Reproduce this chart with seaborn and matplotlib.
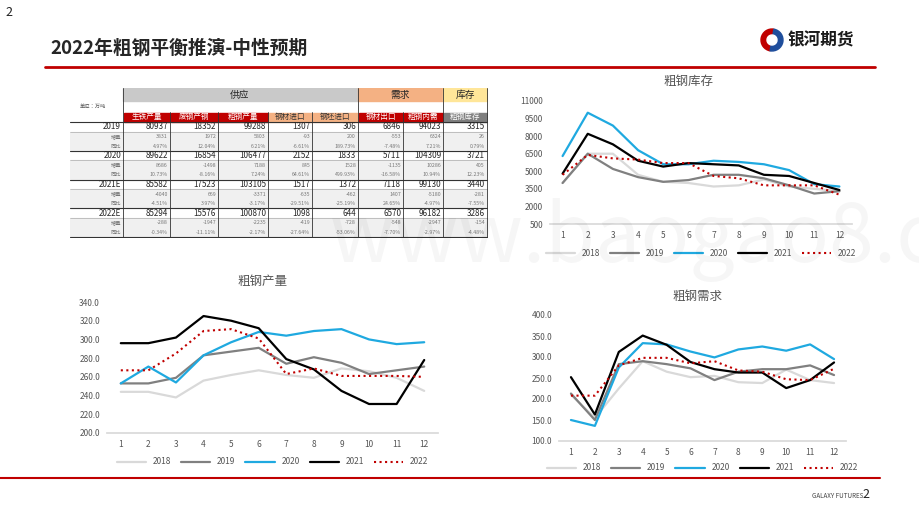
import matplotlib
matplotlib.use('Agg')
import matplotlib.pyplot as plt
from matplotlib.patches import Rectangle, Wedge
import seaborn as sns
import pandas as pd

sns.set_theme(style='white')
plt.rcParams['font.family'] = 'sans-serif'
plt.rcParams['font.sans-serif'] = ['Noto Sans CJK SC', 'Noto Sans CJK JP', 'DejaVu Sans']
plt.rcParams['axes.unicode_minus'] = False

# ---- 数据 ----
months = list(range(1, 13))
series_years = ['2018', '2019', '2020', '2021', '2022']
colors = ['#d9d9d9', '#808080', '#1fa9e0', '#000000', '#c00000']

stock = {
    '2018': [4000, 6500, 6500, 4700, 4100, 4000, 3700, 3800, 4300, 3700, 3500, 3300],
    '2019': [4000, 6500, 5200, 4500, 4100, 4250, 4700, 4700, 4400, 3800, 3100, 3300],
    '2020': [6300, 10000, 8900, 6800, 5600, 5600, 5900, 5800, 5600, 5100, 3900, 3700],
    '2021': [4800, 8200, 7300, 5900, 5400, 5700, 5600, 5500, 4700, 4600, 4000, 3400],
    '2022': [4700, 6400, 6100, 6000, 5700, 5700, 4600, 4400, 3800, 3800, 3800, 3000],
}
output = {
    '2018': [244, 244, 238, 256, 262, 267, 262, 259, 269, 266, 259, 245],
    '2019': [253, 253, 259, 283, 287, 291, 274, 281, 275, 263, 267, 271],
    '2020': [253, 271, 254, 283, 297, 308, 304, 309, 311, 300, 295, 297],
    '2021': [296, 296, 302, 325, 320, 312, 279, 268, 245, 231, 231, 278],
    '2022': [267, 267, 285, 309, 311, 301, 263, 269, 261, 261, 261, 260],
}
demand = {
    '2018': [210, 155, 225, 290, 265, 252, 255, 240, 238, 270, 245, 238],
    '2019': [213, 150, 283, 290, 283, 273, 245, 265, 271, 271, 280, 257],
    '2020': [150, 136, 275, 333, 330, 313, 299, 318, 325, 315, 330, 295],
    '2021': [252, 163, 312, 351, 329, 288, 271, 263, 263, 226, 245, 287],
    '2022': [208, 208, 280, 298, 298, 285, 290, 268, 265, 247, 245, 272],
}

tbl_cols = ['生铁产量', '废钢产钢', '粗钢产量', '钢材进口', '钢坯进口', '钢材出口', '粗钢内需', '粗钢库存']
tbl_years = ['2019', '2020', '2021E', '2022E']
tbl_vals = [
    [80937, 18352, 99288, 1307, 306, 6846, 94023, 3315],
    [89622, 16854, 106477, 2152, 1833, 5711, 104309, 3721],
    [85582, 17523, 103105, 1517, 1372, 7118, 99130, 3440],
    [85294, 15576, 100870, 1098, 644, 6570, 96182, 3286],
]
tbl_inc = [
    ['3831', '1972', '5803', '-93', '200', '-553', '6324', '26'],
    ['8686', '-1498', '7188', '845', '1528', '-1135', '10286', '405'],
    ['-4040', '669', '-3371', '-635', '-462', '1407', '-5180', '-281'],
    ['-288', '-1947', '-2235', '-419', '-728', '-548', '-2947', '-154'],
]
tbl_pct = [
    ['4.97%', '12.04%', '6.21%', '-6.61%', '189.73%', '-7.48%', '7.21%', '0.79%'],
    ['10.73%', '-8.16%', '7.24%', '64.61%', '499.93%', '-16.58%', '10.94%', '12.23%'],
    ['-4.51%', '3.97%', '-3.17%', '-29.51%', '-25.19%', '24.65%', '-4.97%', '-7.55%'],
    ['-0.34%', '-11.11%', '-2.17%', '-27.64%', '-53.06%', '-7.70%', '-2.97%', '-4.48%'],
]

W, H = 920, 518
fig = plt.figure(figsize=(9.2, 5.18), dpi=100)


def px_axes(l, t, r, b):
    return fig.add_axes([l / W, 1 - b / H, (r - l) / W, (b - t) / H])


# ---- 页眉 / 页脚 ----
fig.text(5 / W, 1 - 12 / H, '2', fontsize=9, va='center', color='#222')
fig.text(50 / W, 1 - 48 / H, '2022年粗钢平衡推演-中性预期', fontsize=13.5, weight='bold', va='center')
fig.text(788 / W, 1 - 40 / H, '银河期货', fontsize=12, weight='bold', va='center', color='#1a1a1a')
fig.text(812 / W, 1 - 496 / H, 'GALAXY FUTURES', fontsize=4.5, va='center', color='#444')
fig.text(862 / W, 1 - 495 / H, '2', fontsize=9, va='center', color='#222')
fig.text(330 / W, 1 - 240 / H, 'www.baogao8.com', fontsize=58, color='#000', alpha=0.035, va='center')

deco = px_axes(0, 0, W, H)
deco.set_xlim(0, W); deco.set_ylim(H, 0); deco.axis('off'); deco.set_zorder(-1)
deco.plot([45, 875], [67, 67], color='#c00000', lw=2)
deco.plot([0, 880], [478, 478], color='#c00000', lw=1.5)
deco.add_patch(Wedge((772, 40), 11, 100, 280, color='#c00000'))
deco.add_patch(Wedge((772, 40), 11, 280, 100, color='#1f4e9c'))
deco.add_patch(Wedge((772, 40), 5, 0, 360, color='white'))

# ---- 表格 ----
ta = px_axes(70, 88, 488, 238)
ta.set_xlim(70, 488); ta.set_ylim(238, 88); ta.axis('off')
xb = [123, 170, 218, 268, 312, 358, 403, 443, 487]
head_fill = ['#c00000', '#c00000', '#c00000', '#f4b183', '#f4b183', '#c00000', '#c00000', '#7f7f7f']
head_txt = ['white', 'white', 'white', '#333', '#333', 'white', 'white', 'white']

ta.add_patch(Rectangle((123, 88), 235, 13, color='#c9c9c9'))
ta.add_patch(Rectangle((358, 88), 85, 13, color='#f4b183'))
ta.add_patch(Rectangle((443, 88), 44, 13, color='#ffe699'))
ta.text(240, 94.5, '供应', ha='center', va='center', fontsize=7)
ta.text(400, 94.5, '需求', ha='center', va='center', fontsize=7)
ta.text(465, 94.5, '库存', ha='center', va='center', fontsize=7)
ta.text(80, 106, '单位：万吨', fontsize=3.8, va='center', color='#555')
for i, c in enumerate(tbl_cols):
    ta.add_patch(Rectangle((xb[i] + 0.5, 112.5), xb[i + 1] - xb[i] - 1, 9, color=head_fill[i]))
    ta.text((xb[i] + xb[i + 1]) / 2, 117, c, ha='center', va='center', fontsize=5.5, color=head_txt[i])
ta.plot([70, 487], [122, 122], color='#333', lw=0.8)

rh = 9.6
for g, yr in enumerate(tbl_years):
    y0 = 122 + g * 3 * rh
    ta.add_patch(Rectangle((70, y0 + rh), 417, 2 * rh, color='#f0f0f0'))
    ta.text(121, y0 + rh / 2, yr, ha='right', va='center', fontsize=5.8)
    ta.text(121, y0 + 1.5 * rh, '增量', ha='right', va='center', fontsize=3.8, color='#777', style='italic')
    ta.text(121, y0 + 2.5 * rh, '同比', ha='right', va='center', fontsize=3.8, color='#777', style='italic')
    for i in range(8):
        ta.text(xb[i + 1] - 2, y0 + rh / 2, f'{tbl_vals[g][i]}', ha='right', va='center', fontsize=5.8)
        ta.text(xb[i + 1] - 2, y0 + 1.5 * rh, tbl_inc[g][i], ha='right', va='center', fontsize=3.8,
                color='#777', style='italic')
        ta.text(xb[i + 1] - 2, y0 + 2.5 * rh, tbl_pct[g][i], ha='right', va='center', fontsize=3.8,
                color='#777', style='italic')
    ta.plot([70, 487], [y0 + 3 * rh, y0 + 3 * rh], color='#333', lw=0.8)
    ta.plot([70, 487], [y0 + rh, y0 + rh], color='#999', lw=0.4)
for x in xb:
    ta.plot([x, x], [88 if x in (123, 358, 443, 487) else 112, 122 + 12 * rh], color='#333', lw=0.6)


# ---- 折线图 ----
def draw(box, data, title, ylim, yticks, fmt, title_xy, leg_y):
    ax = px_axes(*box)
    for yr, col in zip(series_years, colors):
        df = pd.DataFrame({'month': months, 'v': data[yr]})
        sns.lineplot(data=df, x='month', y='v', ax=ax, color=col, label=yr,
                     lw=1.6 if yr != '2022' else 1.5, linestyle=':' if yr == '2022' else '-')
    ax.set_xlim(0.5, 12.5); ax.set_ylim(*ylim)
    ax.set_xticks(months); ax.set_yticks(yticks)
    ax.set_yticklabels([fmt.format(t) for t in yticks])
    ax.tick_params(labelsize=6, colors='#555', length=0, pad=5)
    ax.set_xlabel(''); ax.set_ylabel('')
    for s in ['top', 'right', 'left']:
        ax.spines[s].set_visible(False)
    ax.spines['bottom'].set_color('#d9d9d9')
    fig.text(title_xy[0] / W, 1 - title_xy[1] / H, title, fontsize=9, color='#555', ha='center', va='center')
    b = box
    ax.legend(loc='center', bbox_to_anchor=(0.5, (b[3] - leg_y) / (b[3] - b[1])), ncol=5, frameon=False,
              fontsize=6, handlelength=3.5, columnspacing=1.2, labelcolor='#555')
    return ax


draw((550, 101, 852, 224), stock, '粗钢库存', (500, 11000), list(range(500, 11001, 1500)), '{}',
     (688, 81), 253)
draw((107, 302, 438, 433), output, '粗钢产量', (200, 340), list(range(200, 341, 20)), '{:.1f}',
     (262, 282), 462)
draw((559, 315, 846, 441), demand, '粗钢需求', (100, 400), list(range(100, 401, 50)), '{:.1f}',
     (697, 296), 468)

fig.savefig('out.png', dpi=100)
